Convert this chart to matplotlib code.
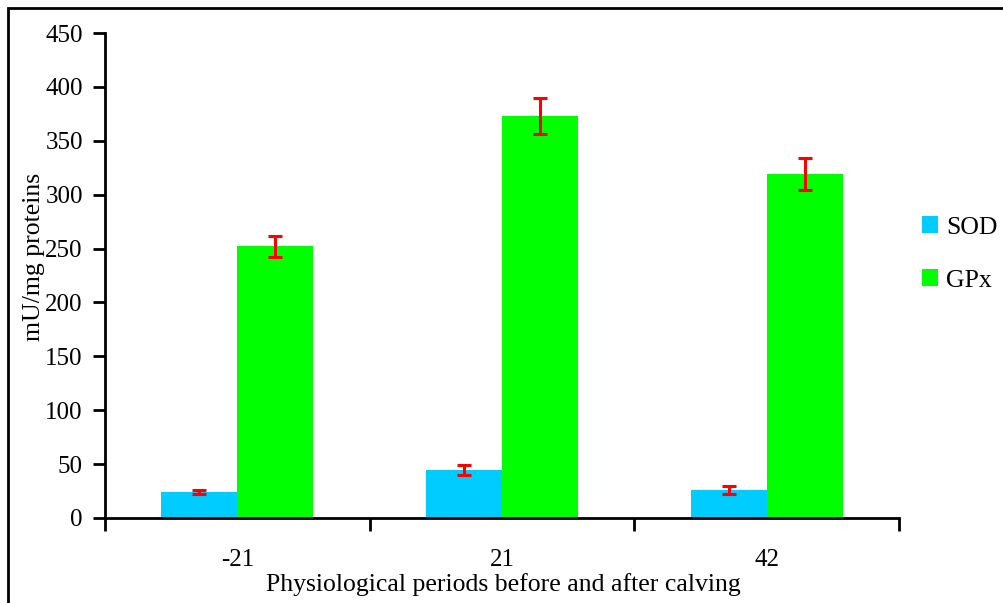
import matplotlib
matplotlib.use('Agg')
import matplotlib.pyplot as plt
from matplotlib.patches import Rectangle
import numpy as np

plt.rcParams['font.family'] = ['Liberation Serif', 'DejaVu Serif']

periods = ['-21', '21', '42']
sod = [24, 44.5, 26]
sod_err = [2, 4.5, 4]
gpx = [252, 373, 319]
gpx_err = [10, 17, 15]

SOD_COLOR = '#00CCFF'
GPX_COLOR = '#00FF00'

fig = plt.figure(figsize=(10.04, 6.03), dpi=100)
# frame around the whole picture (right and bottom run off the image)
fig.patches.append(Rectangle((8 / 1004, -0.05), 1.1, 1 - 8 / 603 + 0.05,
                             transform=fig.transFigure, fill=False,
                             edgecolor='black', linewidth=2))

ax = fig.add_axes([105 / 1004, 1 - 518 / 603, (899 - 105) / 1004, (518 - 33) / 603])

x = np.arange(len(periods))
w = 0.287
err_kw = dict(ecolor='red', elinewidth=2.2, capsize=5, capthick=2.2)
ax.bar(x - w / 2, sod, w, yerr=sod_err, color=SOD_COLOR, label='SOD', error_kw=err_kw)
ax.bar(x + w / 2, gpx, w, yerr=gpx_err, color=GPX_COLOR, label='GPx', error_kw=err_kw)

ax.set_xlim(-0.5, len(periods) - 0.5)
ax.set_ylim(0, 450)
ax.set_yticks(np.arange(0, 451, 50))
ax.set_xticks(np.arange(-0.5, len(periods), 1.0))
ax.set_xticklabels([])
ax.set_xticks(x, minor=True)
ax.set_xticklabels(periods, minor=True)
ax.tick_params(axis='x', which='minor', length=0, pad=22, labelsize=18)
ax.tick_params(axis='x', which='major', direction='out', length=9, width=2)
ax.tick_params(axis='y', direction='out', length=9, width=2, labelsize=18, pad=7)

for side in ['top', 'right']:
    ax.spines[side].set_visible(False)
for side in ['left', 'bottom']:
    ax.spines[side].set_linewidth(2)

ax.set_ylabel('mU/mg proteins', fontsize=18.5)
ax.yaxis.set_label_coords(-0.076, 0.538)
ax.set_xlabel('Physiological periods before and after calving', fontsize=18.5)
ax.xaxis.set_label_coords(0.502, -0.113)

fig.legend(loc='upper left', bbox_to_anchor=(899 / 1004, 1 - 193 / 603),
           frameon=False, fontsize=18.5, handlelength=0.63, handleheight=0.63,
           handletextpad=0.3, labelspacing=1.2)

fig.savefig('out.png', dpi=100)
